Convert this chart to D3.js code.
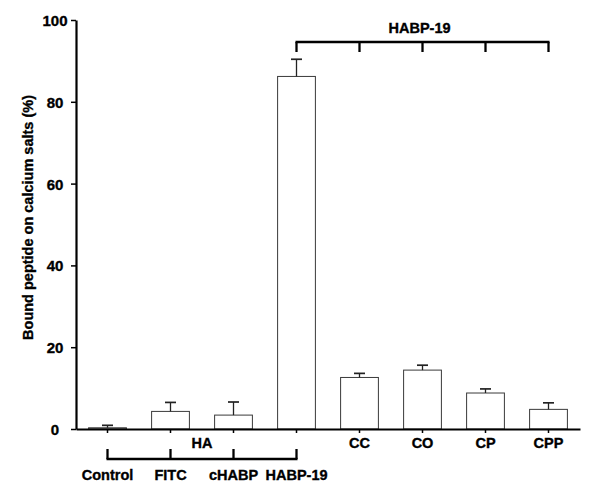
<!DOCTYPE html>
<html>
<head>
<meta charset="utf-8">
<script src="https://cdn.jsdelivr.net/npm/d3@7"></script>
<style>
  body { margin: 0; background: #fff; }
  text { font-family: Arial, "Liberation Sans", sans-serif; font-weight: bold; fill: #000; stroke: #000; stroke-width: 0.35px; }
</style>
</head>
<body>
<svg id="chart" width="600" height="496"></svg>
<script>
// data
const categories = ["Control", "FITC", "cHABP", "HABP-19", "CC", "CO", "CP", "CPP"];
const means = [0.3, 4.3, 3.4, 86.2, 12.6, 14.4, 8.8, 4.8];
const errors = [0.6, 2.2, 3.2, 4.2, 1.0, 1.2, 1.0, 1.6];
const yTicks = [0, 20, 40, 60, 80, 100];
const lowGroup = ["Control", "FITC", "cHABP", "HABP-19"]; // labels under the HA bracket
const haGroup = ["Control", "FITC", "cHABP", "HABP-19"];
const habpGroup = ["HABP-19", "CC", "CO", "CP", "CPP"];

const data = categories.map((c, i) => ({ cat: c, mean: means[i], err: errors[i] }));

const svg = d3.select("#chart");

const x = d3.scaleBand()
  .domain(categories)
  .range([76, 580])
  .paddingInner(0.4)
  .paddingOuter(0.2);

const y = d3.scaleLinear()
  .domain([0, 100])
  .range([429, 20]);

const cx = c => x(c) + x.bandwidth() / 2;

// bars
svg.selectAll(".bar")
  .data(data)
  .enter()
  .append("rect")
  .attr("class", "bar")
  .attr("x", d => x(d.cat))
  .attr("y", d => y(d.mean))
  .attr("width", x.bandwidth())
  .attr("height", d => y(0) - y(d.mean))
  .attr("fill", "#fff")
  .attr("stroke", "#3a3a3a")
  .attr("stroke-width", 1);

// error bars (upper only)
const eb = svg.selectAll(".err").data(data).enter().append("g").attr("class", "err");
eb.append("line")
  .attr("x1", d => cx(d.cat)).attr("x2", d => cx(d.cat))
  .attr("y1", d => y(d.mean)).attr("y2", d => y(d.mean + d.err))
  .attr("stroke", "#222").attr("stroke-width", 1.3);
eb.append("line")
  .attr("x1", d => cx(d.cat) - 5.5).attr("x2", d => cx(d.cat) + 5.5)
  .attr("y1", d => y(d.mean + d.err)).attr("y2", d => y(d.mean + d.err))
  .attr("stroke", "#222").attr("stroke-width", 1.7);

// y axis
const yAxis = svg.append("g")
  .attr("transform", "translate(76,0)")
  .call(d3.axisLeft(y).tickValues(yTicks).tickSize(5).tickSizeOuter(0).tickPadding(0));
yAxis.select(".domain").attr("stroke", "#000").attr("stroke-width", 2.2);
yAxis.selectAll(".tick line").attr("stroke", "#000").attr("stroke-width", 1.5);
yAxis.selectAll(".tick text")
  .attr("x", -21)
  .attr("text-anchor", "middle")
  .attr("dy", "0.36em")
  .style("font-size", "15px")
  .style("font-family", "Arial, 'Liberation Sans', sans-serif")
  .style("font-weight", "bold")
  .attr("fill", "#000");

// x axis
const xAxis = svg.append("g")
  .attr("transform", "translate(0,429)")
  .call(d3.axisBottom(x).tickSize(4).tickSizeOuter(0).tickFormat(""));
xAxis.select(".domain").attr("stroke", "#000").attr("stroke-width", 2.2);
xAxis.selectAll(".tick line").attr("stroke", "#000").attr("stroke-width", 1.5);

// category labels
svg.selectAll(".catlabel")
  .data(categories)
  .enter()
  .append("text")
  .attr("class", "catlabel")
  .attr("x", d => cx(d))
  .attr("y", d => lowGroup.includes(d) ? 480 : 448)
  .attr("text-anchor", "middle")
  .style("font-size", "14.5px")
  .text(d => d);

// bracket helper
function bracket(group, yLine, yTip, label, labelX, labelY) {
  const xs = group.map(cx);
  svg.append("line")
    .attr("x1", d3.min(xs) - 1).attr("x2", d3.max(xs) + 1)
    .attr("y1", yLine).attr("y2", yLine)
    .attr("stroke", "#000").attr("stroke-width", 2.3);
  svg.selectAll(null)
    .data(xs)
    .enter()
    .append("line")
    .attr("x1", d => d).attr("x2", d => d)
    .attr("y1", yLine).attr("y2", yTip)
    .attr("stroke", "#000").attr("stroke-width", 2.3);
  svg.append("text")
    .attr("x", labelX)
    .attr("y", labelY)
    .attr("text-anchor", "middle")
    .style("font-size", "14.5px")
    .text(label);
}

bracket(haGroup, 459, 449, "HA", (cx("FITC") + cx("cHABP")) / 2, 448);
bracket(habpGroup, 42, 52, "HABP-19", cx("CO") - 3, 33);

// y axis title
svg.append("text")
  .attr("transform", "translate(32.5," + (y(50) - 7) + ") rotate(-90)")
  .attr("text-anchor", "middle")
  .style("font-size", "14.5px")
  .text("Bound peptide on calcium salts (%)");
</script>
</body>
</html>
